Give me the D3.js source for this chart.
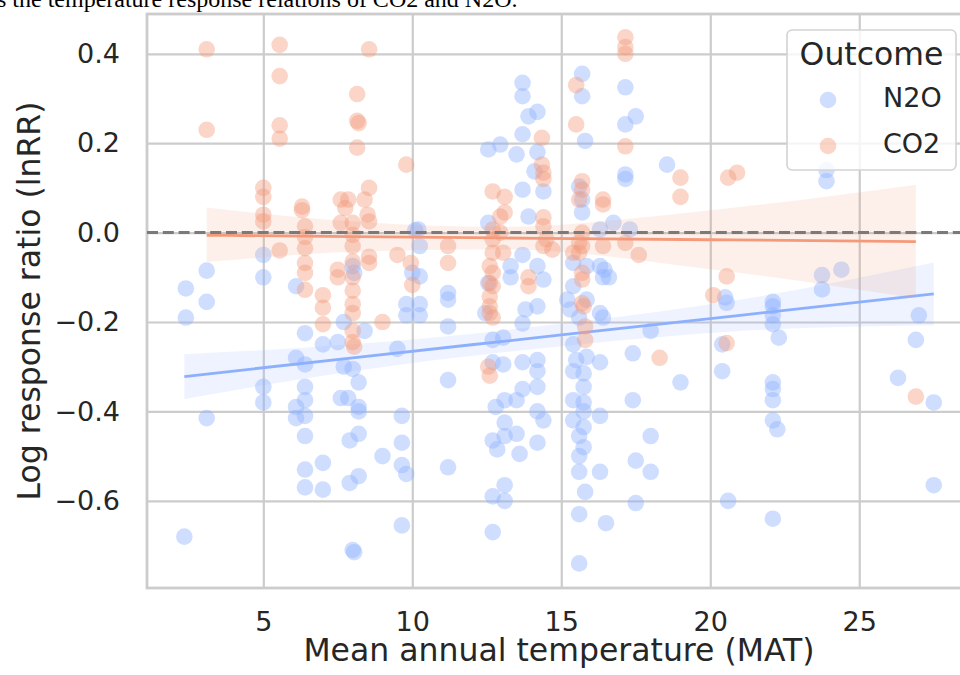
<!DOCTYPE html>
<html>
<head>
<meta charset="utf-8">
<script src="https://cdn.jsdelivr.net/npm/d3@7"></script>
<style>
  body { margin: 0; background: #fff; }
  svg { display: block; font-family: "DejaVu Sans", sans-serif; }
</style>
</head>
<body>
<div id="chart"></div>
<script>
// series names / legend
const seriesNames = ["N2O", "CO2"];
const legendTitle = "Outcome";
const captionText = "s the temperature response relations of CO2 and N2O.";

// tick values
const xTicks = [5, 10, 15, 20, 25];
const yTicks = [-0.6, -0.4, -0.2, 0.0, 0.2, 0.4];

// N2O observations: [MAT, lnRR]
const n2oPoints = [
  [2.4,-0.125],[2.4,-0.19],[3.1,-0.085],[3.1,-0.155],[3.1,-0.415],[2.35,-0.68],
  [5.0,-0.05],[5.0,-0.10],[5.0,-0.345],[5.0,-0.38],
  [6.1,-0.12],[6.4,-0.225],[7.0,-0.25],[6.1,-0.28],[6.4,-0.295],[7.7,-0.20],[8.4,-0.22],
  [7.5,-0.245],[7.7,-0.30],[8.0,-0.305],[6.4,-0.345],[6.4,-0.375],[6.1,-0.39],[6.1,-0.415],
  [6.4,-0.41],[6.4,-0.455],[7.6,-0.37],[7.85,-0.37],[8.2,-0.335],[8.2,-0.39],[8.2,-0.40],
  [8.2,-0.45],[7.9,-0.465],[7.0,-0.515],[6.4,-0.53],[6.4,-0.57],[7.0,-0.575],[7.9,-0.56],
  [8.2,-0.545],[9.0,-0.50],[9.65,-0.41],[9.65,-0.47],[9.65,-0.52],[9.8,-0.54],[9.65,-0.655],
  [8.0,-0.71],[8.05,-0.715],[9.5,-0.26],[9.8,-0.16],[9.8,-0.185],
  [8.0,-0.075],[8.05,-0.09],[10.0,-0.09],[10.1,0.005],
  [13.7,0.335],[13.7,0.305],[13.9,0.26],[14.2,0.27],[13.7,0.22],[12.95,0.197],[12.55,0.186],
  [13.5,0.175],[14.2,0.18],[14.1,0.137],[13.7,0.096],[14.4,0.092],[13.9,0.036],[12.55,0.022],
  [10.2,0.007],[10.25,-0.03],[10.25,-0.098],[11.2,-0.135],[11.2,-0.15],[10.25,-0.16],[10.25,-0.185],
  [13.3,-0.075],[13.3,-0.10],[13.7,-0.05],[14.2,-0.075],[14.4,-0.105],[13.8,-0.172],[14.2,-0.165],
  [12.55,-0.113],[12.45,-0.18],
  [15.7,0.355],[15.7,0.305],[15.8,0.205],[17.15,0.325],[17.15,0.242],[17.5,0.26],[17.15,0.13],
  [17.15,0.12],[18.55,0.152],[15.6,0.103],[15.7,0.074],[15.7,0.045],[16.3,0.007],[16.75,0.022],
  [17.3,0.007],[15.4,-0.068],[15.85,-0.075],[16.3,-0.075],[16.4,-0.10],[15.4,-0.12],[15.2,-0.15],
  [15.3,-0.172],[15.85,-0.15],[16.3,-0.18],[15.6,-0.19],
  [11.2,-0.21],[13.7,-0.203],[13.05,-0.235],[12.7,-0.24],[12.7,-0.29],[13.05,-0.295],[13.7,-0.29],
  [14.2,-0.285],[14.2,-0.31],[14.2,-0.345],[13.7,-0.35],[13.5,-0.375],[13.1,-0.375],[12.8,-0.39],
  [13.1,-0.425],[13.1,-0.455],[13.5,-0.45],[12.7,-0.465],[14.4,-0.42],[14.2,-0.40],[14.2,-0.47],
  [13.6,-0.495],[12.85,-0.485],[11.2,-0.33],
  [16.6,-0.10],[16.45,-0.083],[16.4,-0.19],[18.0,-0.22],[17.4,-0.27],[16.3,-0.29],[15.4,-0.25],
  [15.5,-0.285],[15.85,-0.278],[15.4,-0.31],[15.75,-0.315],[15.75,-0.345],[15.75,-0.38],
  [15.4,-0.375],[15.75,-0.40],[15.4,-0.42],[15.75,-0.435],[15.6,-0.455],[15.75,-0.48],
  [16.3,-0.41],[17.4,-0.375],[18.0,-0.455],
  [11.2,-0.525],[12.7,-0.67],[12.7,-0.59],[13.1,-0.565],[13.1,-0.60],[15.6,-0.63],[15.6,-0.74],
  [15.8,-0.58],[16.3,-0.535],[15.6,-0.535],[15.6,-0.50],[16.5,-0.65],[17.5,-0.51],[18.0,-0.535],
  [17.5,-0.605],[19.0,-0.335],
  [20.55,-0.157],[20.5,-0.145],[20.4,-0.25],[20.4,-0.31],[22.1,-0.165],[22.1,-0.185],[22.1,-0.205],
  [22.3,-0.235],[22.1,-0.335],[22.1,-0.35],[22.1,-0.375],[22.1,-0.42],[22.25,-0.44],[20.6,-0.60],
  [22.1,-0.64],[27.0,-0.185],[26.9,-0.24],[26.3,-0.325],[27.5,-0.38],[27.5,-0.565],
  [23.9,0.115],[23.9,0.14],[23.75,-0.095],[24.4,-0.083],[23.75,-0.127],[22.1,-0.155]
];

// CO2 observations: [MAT, lnRR]
const co2Points = [
  [3.1,0.41],[3.1,0.23],[5.55,0.42],[5.55,0.35],[5.55,0.24],[5.55,0.21],[8.55,0.41],[8.15,0.31],
  [8.15,0.25],[8.2,0.245],[8.15,0.19],[9.8,0.152],
  [5.0,0.10],[5.0,0.08],[5.0,0.04],[5.0,0.025],[5.55,-0.04],
  [6.3,0.058],[6.3,0.05],[6.4,0.014],[6.4,-0.01],[6.4,-0.035],[6.4,-0.068],[6.4,-0.09],[6.4,-0.128],
  [7.0,-0.14],[7.0,-0.168],[7.0,-0.205],
  [7.6,0.074],[7.85,0.074],[7.75,0.055],[7.6,0.022],[8.0,0.022],[8.4,0.074],[8.55,0.10],[8.5,0.04],
  [8.55,0.025],[7.5,-0.083],[7.5,-0.10],[8.55,-0.054],[8.55,-0.068],[9.5,-0.05],[9.95,-0.068],
  [8.0,-0.005],[8.0,-0.03],[8.0,-0.065],[8.0,-0.10],[8.0,-0.13],[8.0,-0.16],[8.0,-0.18],[8.0,-0.22],
  [8.0,-0.245],[8.05,-0.255],[9.0,-0.20],
  [11.2,-0.03],[11.2,-0.068],[10.0,-0.117],
  [12.7,0.092],[13.1,0.08],[13.1,0.045],[12.7,0.007],[12.7,-0.015],[12.7,-0.045],[13.05,-0.045],
  [12.95,0.0],[12.6,-0.075],[12.7,-0.09],[12.6,-0.113],[12.7,-0.12],[12.6,-0.143],[12.6,-0.165],
  [12.6,-0.18],[12.7,-0.19],[13.9,-0.10],[13.9,-0.12],[12.6,-0.32],[12.55,-0.30],
  [14.35,0.212],[14.35,0.152],[14.4,0.134],[14.4,0.12],[14.4,0.034],[14.4,0.014],[14.5,-0.015],
  [14.7,-0.038],[14.4,-0.03],[12.95,0.036],
  [15.5,0.33],[15.5,0.242],[15.7,0.115],[15.7,0.096],[15.6,0.074],[16.4,0.074],[16.4,0.063],
  [15.7,0.0],[15.7,-0.03],[15.4,-0.045],[15.7,-0.09],[15.7,-0.105],[15.7,-0.158],[16.4,-0.03],
  [15.6,-0.022],[15.6,-0.045],[15.75,-0.165],[15.8,-0.21],[15.8,-0.24],
  [17.15,0.437],[17.15,0.415],[17.15,0.40],[17.15,0.193],[17.15,-0.023],[17.6,-0.05],
  [18.3,-0.28],
  [19.0,0.123],[19.0,0.08],[20.6,0.123],[20.9,0.134],[20.55,-0.098],[20.1,-0.14],[20.55,-0.247],
  [26.9,-0.367]
];

// fitted regression lines and confidence bands
const n2oFitX  = [2.35, 8, 15, 21, 27.5];
const n2oFit   = [-0.322, -0.280, -0.229, -0.185, -0.137];
const n2oLower = [-0.372, -0.310, -0.254, -0.220, -0.207];
const n2oUpper = [-0.272, -0.250, -0.204, -0.150, -0.067];

const co2FitX  = [3.1, 8, 13, 20, 26.9];
const co2Fit   = [-0.006, -0.009, -0.012, -0.016, -0.020];
const co2Lower = [-0.066, -0.043, -0.037, -0.082, -0.147];
const co2Upper = [0.056, 0.025, 0.013, 0.050, 0.107];

const colors = { N2O: "#8db0fe", CO2: "#f49a7b" };
const textColor = "#262626";
const gridColor = "#cccccc";

// layout
const W = 960, H = 675;
const plot = { left: 147, top: 14, right: 971, bottom: 588 };

const svg = d3.select("#chart").append("svg")
  .attr("width", W)
  .attr("height", H);

svg.append("rect").attr("width", W).attr("height", H).attr("fill", "#fff");

// scales
const x = d3.scaleLinear().domain([1.097, 28.75]).range([plot.left, plot.right]);
const y = d3.scaleLinear().domain([-0.795, 0.489]).range([plot.bottom, plot.top]);

// grid + tick labels
const yAxis = d3.axisLeft(y)
  .tickValues(yTicks)
  .tickFormat(d3.format(".1f"))
  .tickSizeInner(-(plot.right - plot.left))
  .tickSizeOuter(0)
  .tickPadding(27);

const xAxis = d3.axisBottom(x)
  .tickValues(xTicks)
  .tickFormat(d3.format("d"))
  .tickSizeInner(-(plot.bottom - plot.top))
  .tickSizeOuter(0)
  .tickPadding(24);

const gy = svg.append("g")
  .attr("transform", `translate(${plot.left},0)`)
  .call(yAxis);
const gx = svg.append("g")
  .attr("transform", `translate(0,${plot.bottom})`)
  .call(xAxis);

[gx, gy].forEach(g => {
  g.select(".domain").remove();
  g.selectAll(".tick line").attr("stroke", gridColor).attr("stroke-width", 2.2);
  g.selectAll(".tick text")
    .attr("fill", textColor)
    .style("font-size", "27px")
    .style("font-family", "DejaVu Sans");
});

// spines
svg.append("rect")
  .attr("x", plot.left)
  .attr("y", plot.top)
  .attr("width", plot.right - plot.left)
  .attr("height", plot.bottom - plot.top)
  .attr("fill", "none")
  .attr("stroke", gridColor)
  .attr("stroke-width", 2.8);

// data layer
const dataG = svg.append("g");

const band = d3.area()
  .x(d => x(d.x))
  .y0(d => y(d.lo))
  .y1(d => y(d.hi))
  .curve(d3.curveMonotoneX);

const line = d3.line()
  .x(d => x(d.x))
  .y(d => y(d.fit))
  .curve(d3.curveMonotoneX);

function drawGroup(points, fx, fit, lo, hi, color) {
  dataG.append("g")
    .selectAll("circle")
    .data(points)
    .join("circle")
    .attr("cx", d => x(d[0]))
    .attr("cy", d => y(d[1]))
    .attr("r", 8.3)
    .attr("fill", color)
    .attr("fill-opacity", 0.42);

  const fitData = fx.map((v, i) => ({ x: v, fit: fit[i], lo: lo[i], hi: hi[i] }));

  dataG.append("path")
    .datum(fitData)
    .attr("d", band)
    .attr("fill", color)
    .attr("fill-opacity", 0.15);

  dataG.append("path")
    .datum(fitData)
    .attr("d", line)
    .attr("fill", "none")
    .attr("stroke", color)
    .attr("stroke-width", 2.8);
}

drawGroup(n2oPoints, n2oFitX, n2oFit, n2oLower, n2oUpper, colors.N2O);
drawGroup(co2Points, co2FitX, co2Fit, co2Lower, co2Upper, colors.CO2);

// zero reference line
svg.append("line")
  .attr("x1", plot.left)
  .attr("x2", plot.right)
  .attr("y1", y(0))
  .attr("y2", y(0))
  .attr("stroke", "#7a7a7a")
  .attr("stroke-width", 3)
  .attr("stroke-dasharray", "11,4.8");

// axis titles
svg.append("text")
  .attr("x", (plot.left + plot.right) / 2)
  .attr("y", 661)
  .attr("text-anchor", "middle")
  .attr("fill", textColor)
  .style("font-size", "31.5px")
  .text("Mean annual temperature (MAT)");

svg.append("text")
  .attr("transform", `translate(40,${(plot.top + plot.bottom) / 2}) rotate(-90)`)
  .attr("text-anchor", "middle")
  .attr("fill", textColor)
  .style("font-size", "31.5px")
  .text("Log response ratio (lnRR)");

// legend
const lg = svg.append("g");
lg.append("rect")
  .attr("x", 787).attr("y", 30)
  .attr("width", 169).attr("height", 140)
  .attr("rx", 5)
  .attr("fill", "#fff").attr("fill-opacity", 0.8)
  .attr("stroke", "#d3d3d3").attr("stroke-width", 1.6);

lg.append("text")
  .attr("x", 871.5).attr("y", 65)
  .attr("text-anchor", "middle")
  .attr("fill", textColor)
  .style("font-size", "31.5px")
  .text(legendTitle);

seriesNames.forEach((name, i) => {
  const cy = 100 + i * 46;
  lg.append("circle")
    .attr("cx", 828).attr("cy", cy).attr("r", 8.3)
    .attr("fill", colors[name]).attr("fill-opacity", 0.42);
  lg.append("text")
    .attr("x", 883).attr("y", cy + 7)
    .attr("fill", textColor)
    .style("font-size", "27px")
    .text(name);
});

// cropped caption line at the very top
svg.append("text")
  .attr("x", -3).attr("y", 7)
  .attr("fill", "#000")
  .style("font-family", "'Liberation Serif', serif")
  .style("font-size", "24px")
  .text(captionText);
</script>
</body>
</html>
